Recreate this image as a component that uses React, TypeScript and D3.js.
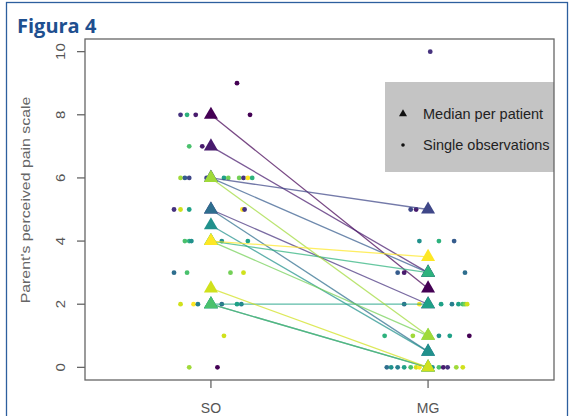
import React from "react";
import * as d3 from "d3";

// categories and axis ticks
const groups = ["SO", "MG"];
const yTicks = [0, 2, 4, 6, 8, 10];

// median per patient (index = patient), one value per group
const medianSO = [8, 7, 5, 6, 6, 5, 2, 4.5, 2, 4, 2, 4, 6, 2.5, 4];
const medianMG = [2.5, 3, 2, 5, 3, 0.5, 0, 0.5, 2, 3, 0, 1, 1, 0, 3.5];

// single observations: [patient, value, horizontal jitter in group units]
const singleSO = [
  [0, 9, 0.12],
  [2, 8, -0.14], [9, 8, -0.11], [1, 8, -0.07], [0, 8, 0.18],
  [10, 7, -0.1], [1, 7, -0.04],
  [12, 6, -0.14], [4, 6, -0.12], [3, 6, -0.1], [3, 6, -0.02], [8, 6, 0.06],
  [11, 6, 0.08], [11, 6, 0.13], [2, 6, 0.15], [14, 6, 0.17], [9, 6, 0.19],
  [2, 5, -0.17], [13, 5, -0.14], [8, 5, -0.1], [14, 5, 0.145], [2, 5, 0.155],
  [10, 4, -0.12], [9, 4, -0.1], [7, 4, -0.09], [7, 4, 0.05], [8, 4, 0.17],
  [5, 3, -0.17], [10, 3, -0.11], [11, 3, 0.09], [13, 3, 0.15],
  [13, 2, -0.14], [14, 2, -0.08], [6, 2, -0.06], [5, 2, 0.05], [8, 2, 0.12], [6, 2, 0.14],
  [13, 1, 0.06],
  [12, 0, -0.1], [0, 0, 0.03],
];
const singleMG = [
  [2, 10, 0.01],
  [3, 5, -0.08], [1, 5, -0.055],
  [7, 4, -0.04], [9, 4, 0.05], [4, 4, 0.12],
  [4, 3, -0.14], [1, 3, -0.11], [5, 3, 0.17],
  [5, 2, -0.11], [14, 2, -0.04], [8, 2, 0.06], [6, 2, 0.11], [8, 2, 0.14],
  [10, 2, 0.16], [11, 2, 0.17], [13, 2, 0.18],
  [9, 1, -0.2], [12, 1, -0.07], [7, 1, 0.05], [8, 1, 0.1], [0, 1, 0.19],
  [5, 0, -0.19], [7, 0, -0.17], [6, 0, -0.14], [8, 0, -0.11], [10, 0, -0.08],
  [13, 0, -0.055], [14, 0, -0.04], [7, 0, 0.02], [10, 0, 0.05], [1, 0, 0.07],
  [2, 0, 0.09], [12, 0, 0.13], [13, 0, 0.16],
];

const legendLabels = ["Median per patient", "Single observations"];

const W = 572;
const H = 416;
const plot = { left: 85, right: 554, top: 39, bottom: 380 };
const axisFont = "'Liberation Sans', Arial, sans-serif";

const App = () => {
  const x = d3.scaleLinear().domain([0.42, 2.58]).range([plot.left, plot.right]);
  const y = d3.scaleLinear().domain([-0.4, 10.4]).range([plot.bottom, plot.top]);
  const color = (p: number) => d3.interpolateViridis(p / (medianSO.length - 1));
  const tri = d3.symbol().type(d3.symbolTriangle).size(85)() as string;
  const legendTri = d3.symbol().type(d3.symbolTriangle).size(28)() as string;

  const dots = [
    ...singleSO.map(d => ({ g: 1, p: d[0], v: d[1], j: d[2] })),
    ...singleMG.map(d => ({ g: 2, p: d[0], v: d[1], j: d[2] })),
  ];

  return (
    <svg width={W} height={H} style={{ position: "absolute", left: 0, top: 0, background: "white" }}>
      <rect x={6.5} y={2.5} width={561} height={430} fill="none" stroke="#2d5f9e" strokeWidth={1.3} />
      <text x={17} y={33} fontFamily="'Open Sans', sans-serif" fontWeight={700} fontSize={20} fill="#1e4f8f">
        Figura 4
      </text>

      {/* single observations */}
      {dots.map((d, i) => (
        <circle key={"d" + i} cx={x(d.g + d.j)} cy={y(d.v)} r={2.4} fill={color(d.p)} />
      ))}

      {/* patient lines */}
      {medianSO.map((v, p) => (
        <line
          key={"l" + p}
          x1={x(1)}
          y1={y(v)}
          x2={x(2)}
          y2={y(medianMG[p])}
          stroke={color(p)}
          strokeWidth={1.3}
          strokeOpacity={0.72}
        />
      ))}

      {/* medians */}
      {medianSO.map((v, p) => (
        <g key={"t" + p}>
          <path d={tri} transform={`translate(${x(1)},${y(v)})`} fill={color(p)} />
          <path d={tri} transform={`translate(${x(2)},${y(medianMG[p])})`} fill={color(p)} />
        </g>
      ))}

      {/* legend */}
      <rect x={385} y={82} width={plot.right - 385} height={90} fill="#c4c4c4" />
      <path d={legendTri} transform={`translate(403,114)`} fill="#111" />
      <circle cx={403} cy={145} r={1.8} fill="#111" />
      {legendLabels.map((t, i) => (
        <text key={t} x={423} y={114 + i * 31} dy="0.35em" fontFamily={axisFont} fontSize={14.5} fill="#222">
          {t}
        </text>
      ))}

      {/* frame */}
      <rect
        x={plot.left}
        y={plot.top}
        width={plot.right - plot.left}
        height={plot.bottom - plot.top}
        fill="none"
        stroke="#666"
        strokeWidth={1.3}
      />

      {/* y axis */}
      {yTicks.map(t => (
        <g key={"y" + t}>
          <line x1={plot.left - 8} x2={plot.left} y1={y(t)} y2={y(t)} stroke="#666" strokeWidth={1.3} />
          <text
            transform={`translate(60,${y(t)}) rotate(-90) scale(1.15,1)`}
            textAnchor="middle"
            dy="0.35em"
            fontFamily={axisFont}
            fontSize={13}
            fill="#555"
          >
            {t}
          </text>
        </g>
      ))}
      <text
        transform={`translate(25,200) rotate(-90) scale(1.22,1)`}
        textAnchor="middle"
        dy="0.35em"
        fontFamily={axisFont}
        fontSize={13}
        fill="#666"
      >
        Parent's perceived pain scale
      </text>

      {/* x axis */}
      {groups.map((g, i) => (
        <g key={g}>
          <line x1={x(i + 1)} x2={x(i + 1)} y1={plot.bottom} y2={plot.bottom + 8} stroke="#666" strokeWidth={1.3} />
          <text x={x(i + 1)} y={408} dy="0.35em" textAnchor="middle" fontFamily={axisFont} fontSize={14} fill="#555">
            {g}
          </text>
        </g>
      ))}
    </svg>
  );
};

export default App;
